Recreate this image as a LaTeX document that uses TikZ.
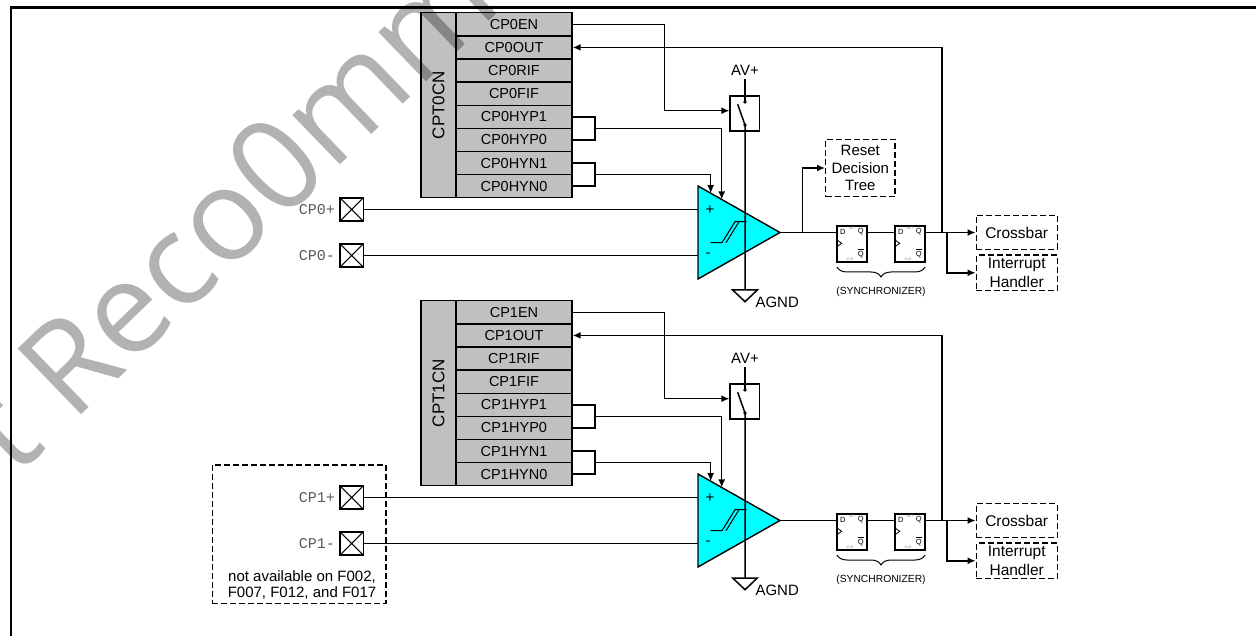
\documentclass[tikz,border=0pt]{standalone}
\usepackage{fontspec}
\setmainfont{Liberation Sans}
\setmonofont{Liberation Mono}
\newfontfamily\wmfont{Open Sans}
\usetikzlibrary{arrows.meta,calc,positioning,decorations.pathreplacing}

\definecolor{regGray}{HTML}{C0C0C0}
\definecolor{cmpCyan}{HTML}{00FFFF}

\tikzset{
  wire/.style={line width=1.5pt},
  sig/.style={line width=1.5pt, -{Latex[length=8pt,width=7pt]}},
  outerframe/.style={line width=2.2pt},
  regrow/.style={draw, line width=1.4pt, fill=regGray, minimum width=116pt, minimum height=23.1pt, inner sep=0pt, font=\fontsize{14.5}{14.5}\selectfont},
  regname/.style={draw, line width=1.4pt, fill=regGray, rotate=90, minimum width=185pt, minimum height=35pt, inner sep=0pt, font=\fontsize{17}{17}\selectfont},
  padbox/.style={draw, line width=1.5pt, minimum size=23.3pt, inner sep=0pt,
    path picture={\draw[line width=1pt] (path picture bounding box.north west) -- (path picture bounding box.south east)
      (path picture bounding box.south west) -- (path picture bounding box.north east);}},
  padlabel/.style={font=\ttfamily\fontsize{15}{15}\selectfont, text=black!65},
  cmpbody/.style={draw, line width=1.4pt, fill=cmpCyan},
  pmsign/.style={inner sep=0pt},
  swbox/.style={draw, line width=1.2pt, minimum width=29.3pt, minimum height=35pt, inner sep=0pt},
  dashbox/.style={draw, dash pattern=on 6pt off 3pt, line width=1.3pt, inner sep=0pt, align=center},
  ffbox/.style={draw, line width=1.5pt, minimum width=30pt, minimum height=36pt, inner sep=0pt},
  fftxt/.style={inner sep=0pt, font=\fontsize{7.5}{7.5}\selectfont},
  fftiny/.style={inner sep=0pt, text=black!50, font=\fontsize{3.5}{3.5}\selectfont},
  synclabel/.style={font=\fontsize{10.3}{10.3}\selectfont},
  wmark/.style={inner sep=0pt, text=black, text opacity=0.3, font=\wmfont\fontsize{128}{128}\selectfont},
  pics/dff/.style={code={
    \node[ffbox] (-box) at (0,0) {};
    \node[fftxt] (-d) at (-9.3,-12.3) {D};
    \node[fftxt] (-q) at (8.7,-12) {Q};
    \node[fftxt] (-qn) at (8.7,9.3) {$\overline{\mbox{Q}}$};
    \node[fftiny] (-set) at (0,-15.5) {SET};
    \node[fftiny] (-clr) at (-2,15.3) {CLR};
    \draw[line width=0.8pt] (-15,-4) -- (-10.3,-0.7) -- (-15,2.7);
  }}
}

\begin{document}
\begin{tikzpicture}[x=1pt,y=-1pt,font=\fontsize{15}{17}\selectfont]
\useasboundingbox (0,0) rectangle (1256,636);
% outer frame, cut off at the right and bottom
\draw[outerframe] (11,700) -- (11,7.5) -- (1270,7.5);

% the two comparator channels
\foreach \n/\dy in {0/0,1/288}{
\begin{scope}[yshift=-\dy]
  % control register
  \node[regname] (cpt\n) at (438.5,105.2) {CPT\n{}CN};
  \foreach \r [count=\i from 0] in {EN,OUT,RIF,FIF,HYP1,HYP0,HYN1,HYN0}
    \node[regrow] (r\n\r) at (514,{24.3+23.125*\i}) {CP\n\r};

  % comparator body
  \coordinate (ca\n) at (698,186);
  \coordinate (cb\n) at (698,279);
  \coordinate (co\n) at (780,232.5);
  \filldraw[cmpbody] (ca\n) -- (co\n) -- (cb\n) -- cycle;
  \node[pmsign] (plus\n) at (710,210) {+};
  \node[pmsign] (minus\n) at (708,255) {-};
  \draw[line width=1pt] (710.7,242.7) -- (722,242.7) -- (735,221.7) -- (746.7,221.7);
  \draw[line width=1pt] (726,242.7) -- (739,221.7);

  % input pins
  \node[padbox] (pp\n) at (351.7,209.5) {};
  \node[padbox] (pm\n) at (351.7,255.5) {};
  \node[padlabel, left=1pt of pp\n] (lp\n) {CP\n+};
  \node[padlabel, left=1pt of pm\n] (lm\n) {CP\n-};
  \draw[wire] (pp\n.east) -- (pp\n.east -| ca\n);
  \draw[wire] (pm\n.east) -- (pm\n.east -| ca\n);

  % hysteresis bits
  \draw[wire] (r\n HYP1.east) -- ++(22.5,0) |- (r\n HYP0.east);
  \draw[wire] (r\n HYN1.east) -- ++(22.5,0) |- (r\n HYN0.east);
  \coordinate (hp\n) at ($(r\n HYP1.east)!0.5!(r\n HYP0.east)+(22.5,0)$);
  \coordinate (hn\n) at ($(r\n HYN1.east)!0.5!(r\n HYN0.east)+(22.5,0)$);
  \draw[sig] (hp\n) -| ($(ca\n)!0.289!(co\n)$);
  \draw[sig] (hn\n) -| ($(ca\n)!0.155!(co\n)$);

  % enable switch and supply
  \node[swbox] (sw\n) at (744.7,113.5) {};
  \node (av\n) at (745,70.5) {AV+};
  \coordinate (st\n) at (745,102);
  \coordinate (sb\n) at (745,125);
  \coordinate (gnd\n) at (745,290);
  \fill (st\n) circle (1.8pt) (sb\n) circle (1.8pt);
  \draw[wire] (av\n.south) -- (st\n);
  \draw[wire] (737.7,104.3) -- (sb\n) -- (gnd\n);
  \draw[wire] ($(gnd\n)+(-12.3,0)$) -- ($(gnd\n)+(12.3,0)$) -- ($(gnd\n)+(0,11.7)$) -- cycle;
  \node[anchor=west] (agnd\n) at (752,302) {AGND};
  \draw[sig] (r\n EN.east) -- ++(92,0) |- ([yshift=2.8pt]sw\n.west);

  % synchronizer and outputs
  \pic (fa\n) at (852,244) {dff};
  \pic (fb\n) at (910,244) {dff};
  \draw[wire] (co\n) -- (co\n -| fa\n-box.west);
  \draw[wire] (co\n -| fa\n-box.east) -- (co\n -| fb\n-box.west);
  \node[dashbox, minimum width=81pt, minimum height=34pt, font=\fontsize{15.5}{17}\selectfont] (xb\n) at (1016.7,232.5) {Crossbar};
  \node[dashbox, minimum width=81pt, minimum height=35.5pt, font=\fontsize{15.5}{19}\selectfont] (ih\n) at (1016.7,272.8) {Interrupt\\Handler};
  \draw[sig] (co\n -| fb\n-box.east) -- (xb\n.west);
  \coordinate (jo\n) at (942,232.5);
  \coordinate (ji\n) at (947,232.5);
  \draw[sig] (ji\n) |- (ih\n.west);
  \draw[sig] (jo\n) |- (r\n OUT.east);
  \draw[line width=1pt, decorate, decoration={brace, amplitude=10pt, mirror}] (837,267) -- (925,267);
  \node[synclabel] (sy\n) at (881,291.5) {(SYNCHRONIZER)};
\end{scope}
}

% reset decision tree (channel 0 only)
\node[dashbox, minimum width=69.3pt, minimum height=57.4pt, font=\fontsize{15}{17.5}\selectfont] (rdt) at (860.3,168) {Reset\\Decision\\Tree};
\coordinate (jr) at (802.7,232.5);
\draw[sig] (jr) |- (rdt.west);

% pins of channel 1
\node[dashbox, minimum width=173.7pt, minimum height=138.3pt] (na) at (299.2,534.2) {};
\node[font=\fontsize{15}{16.6}\selectfont, align=center] (natxt) at (302,585) {not available on F002,\\F007, F012, and F017};

% watermark
\node[wmark, rotate=44, anchor=base west] (wm) at (72,424) {\llap{Not }Reco0mmended};
\end{tikzpicture}
\end{document}
